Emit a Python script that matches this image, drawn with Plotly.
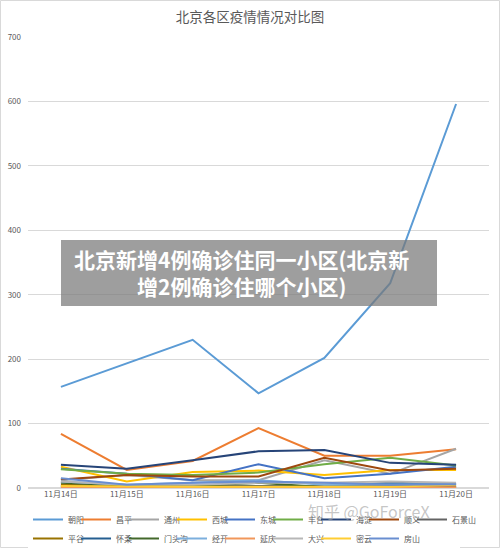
import plotly.graph_objects as go

dates = ["11月14日", "11月15日", "11月16日", "11月17日", "11月18日", "11月19日", "11月20日"]

districts = ["朝阳", "昌平", "通州", "西城", "东城", "丰台", "海淀", "顺义", "石景山",
             "平谷", "怀柔", "门头沟", "经开", "延庆", "大兴", "密云", "房山"]

chaoyang = [157, 193, 230, 147, 202, 318, 596]
changping = [84, 28, 42, 93, 50, 50, 60]
tongzhou = [12, 20, 12, 12, 43, 22, 61]
xicheng = [33, 10, 25, 27, 20, 28, 28]
dongcheng = [30, 22, 12, 37, 15, 22, 33]
fengtai = [29, 22, 20, 24, 37, 47, 35]
haidian = [36, 30, 43, 57, 59, 39, 36]
shunyi = [13, 20, 18, 18, 47, 27, 30]
shijingshan = [3, 2, 3, 3, 2, 3, 3]
pinggu = [5, 3, 2, 2, 1, 2, 2]
huairou = [2, 2, 3, 3, 2, 8, 6]
mentougou = [8, 4, 3, 8, 1, 1, 1]
jingkai = [10, 5, 8, 12, 5, 6, 6]
yanqing = [1, 1, 1, 1, 1, 1, 1]
daxing = [10, 5, 5, 8, 8, 10, 8]
miyun = [3, 2, 2, 2, 2, 2, 5]
fangshan = [15, 5, 8, 10, 8, 5, 6]

series = [chaoyang, changping, tongzhou, xicheng, dongcheng, fengtai, haidian, shunyi,
          shijingshan, pinggu, huairou, mentougou, jingkai, yanqing, daxing, miyun, fangshan]

colors = ["#5B9BD5", "#ED7D31", "#A5A5A5", "#FFC000", "#4472C4", "#70AD47", "#264478",
          "#9E480E", "#636363", "#997300", "#255E91", "#43682B", "#7CAFDD", "#F1975A",
          "#B7B7B7", "#FFCD33", "#698ED0"]

W, H = 500, 548
L, R, T, B = 28, 11, 37, 60
pw, ph = W - L - R, H - T - B


def px(x):
    return (x - L) / pw


def py(y):
    return (H - B - y) / ph


font = "Noto Sans CJK SC, sans-serif"

fig = go.Figure()
for name, vals, c in zip(districts, series, colors):
    fig.add_trace(go.Scatter(x=dates, y=vals, mode="lines", name=name,
                             line={"color": c, "width": 2}))

shapes = [
    # outer border
    dict(type="rect", xref="paper", yref="paper", x0=px(0.5), x1=px(W - 0.5),
         y0=py(H - 0.5), y1=py(0.5), line={"color": "#d9d9d9", "width": 1}),
    # overlay banner
    dict(type="rect", xref="paper", yref="paper", x0=px(61), x1=px(437),
         y0=py(306), y1=py(240), fillcolor="rgba(120,120,120,0.72)", line={"width": 0},
         layer="above"),
]

annotations = [
    dict(text="<b>北京新增4例确诊住同一小区(北京新</b><br><b>增2例确诊住哪个小区)</b>",
         xref="paper", yref="paper", x=px(241), y=py(272), showarrow=False,
         font={"family": font, "size": 21, "color": "white"}, align="center"),
    dict(text="知乎 @GoForceX", xref="paper", yref="paper", x=px(432), y=py(525),
         showarrow=False, font={"family": font, "size": 16, "color": "rgba(160,160,160,0.6)"}),
]

fig.update_layout(
    width=W, height=H,
    margin={"l": L, "r": R, "t": T, "b": B},
    paper_bgcolor="white", plot_bgcolor="white",
    title={"text": "北京各区疫情情况对比图", "x": 0.5, "xref": "container",
           "y": 1 - 17 / H, "yref": "container", "yanchor": "middle",
           "font": {"family": font, "size": 13.5, "color": "#595959"}},
    xaxis={"type": "category", "range": [-0.5, 6.5], "showgrid": False,
           "tickfont": {"family": font, "size": 8, "color": "#595959"},
           "ticks": "", "showline": False, "automargin": False},
    yaxis={"range": [0, 700], "dtick": 100, "gridcolor": "#d9d9d9", "gridwidth": 1,
           "zeroline": True, "zerolinecolor": "#d9d9d9", "automargin": False,
           "ticklabelstandoff": 6,
           "tickfont": {"family": font, "size": 8, "color": "#595959"}},
    showlegend=True,
    legend={"orientation": "h", "xref": "container", "yref": "container",
            "x": 28 / W, "xanchor": "left", "y": 1 - 505 / H,
            "yanchor": "top", "entrywidth": 3, "itemwidth": 30, "tracegroupgap": 0,
            "font": {"family": font, "size": 8, "color": "#595959"}},
    shapes=shapes,
    annotations=annotations,
)

# let the last legend label of a row spill past the legend box instead of being clipped
post = ("document.body.style.margin='0';"
        "document.querySelectorAll('.legend .scrollbox, .legend')"
        ".forEach(function(e){e.removeAttribute('clip-path');});")

fig.write_html("out.html", config={"displayModeBar": False}, post_script=post)
